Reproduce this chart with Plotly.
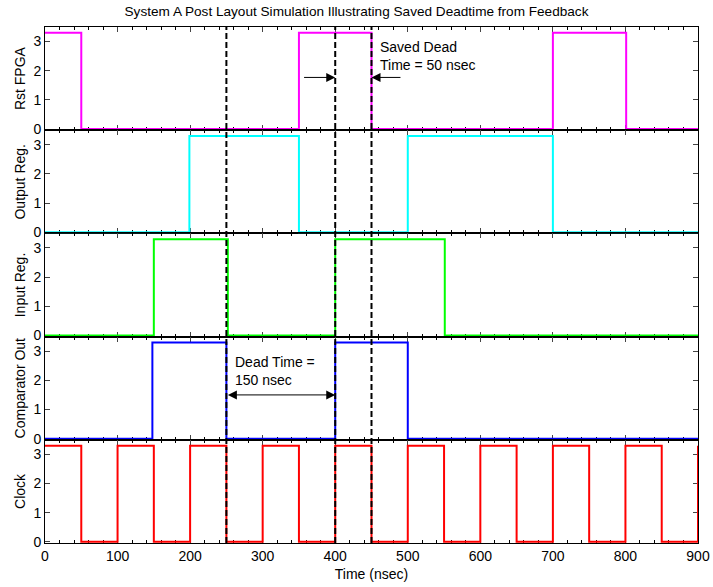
import plotly.graph_objects as go
from plotly.subplots import make_subplots

# ---- data (edge times in nsec, logic level after each edge in volts) ----
rst_t = [0, 50, 350, 450, 700, 801, 900]
rst_v = [3.3, 0, 3.3, 0, 3.3, 0, 0]

out_t = [0, 199, 350, 500, 700, 900]
out_v = [0, 3.3, 0, 3.3, 0, 0]

in_t = [0, 150, 252, 400, 551, 900]
in_v = [0, 3.3, 0, 3.3, 0, 0]

cmp_t = [0, 148, 250, 400, 500, 900]
cmp_v = [0, 3.3, 0, 3.3, 0, 0]

clk_t = [0, 50, 100, 150, 200, 250, 300, 350, 400, 450, 500, 550, 600, 650, 700, 750, 800, 850, 900]
clk_v = [3.3, 0, 3.3, 0, 3.3, 0, 3.3, 0, 3.3, 0, 3.3, 0, 3.3, 0, 3.3, 0, 3.3, 0, 3.3]

signal_names = ["Rst FPGA", "Output Reg.", "Input Reg.", "Comparator Out", "Clock"]
signal_colors = ["#FF00FF", "#00FFFF", "#00FF00", "#0000FF", "#FF0000"]
marker_times = [250, 400, 450]
x_ticks = [0, 100, 200, 300, 400, 500, 600, 700, 800, 900]
y_ticks = [0, 1, 2, 3]

title_text = "System A Post Layout Simulation Illustrating Saved Deadtime from Feedback"
xlabel = "Time (nsec)"

FONT = "Liberation Sans, Arial, sans-serif"
FS = 14

fig = make_subplots(rows=5, cols=1, shared_xaxes=True, vertical_spacing=0)

series = [(rst_t, rst_v), (out_t, out_v), (in_t, in_v), (cmp_t, cmp_v), (clk_t, clk_v)]
for i, ((t, v), c) in enumerate(zip(series, signal_colors)):
    fig.add_trace(go.Scatter(x=t, y=v, mode="lines", line=dict(color=c, width=2, shape="hv"),
                             showlegend=False, hoverinfo="skip"), row=i + 1, col=1)

for i in range(5):
    fig.update_yaxes(range=[-0.04, 3.5], tickvals=y_ticks, ticks="inside", ticklen=5,
                     showline=True, linecolor="black", linewidth=1, mirror="ticks",
                     showgrid=False, zeroline=False, layer="below traces", automargin=False,
                     title=dict(text=signal_names[i], font=dict(size=FS, family=FONT, color="black"), standoff=4),
                     tickfont=dict(size=FS, family=FONT, color="black"),
                     row=i + 1, col=1)
    fig.update_xaxes(range=[0, 900], tickvals=x_ticks, ticks="inside", ticklen=5,
                     minor=dict(dtick=20, ticks="inside", ticklen=3, tickcolor="black"),
                     showline=True, linecolor="black", linewidth=1, mirror="ticks",
                     showgrid=False, zeroline=False, layer="below traces", automargin=False,
                     tickfont=dict(size=FS, family=FONT, color="black"),
                     row=i + 1, col=1)

fig.update_xaxes(title=dict(text=xlabel, font=dict(size=FS, family=FONT, color="black"), standoff=6), row=5, col=1)

for xm in marker_times:
    fig.add_shape(type="line", xref="x5", yref="paper", x0=xm, x1=xm, y0=0, y1=1,
                  line=dict(color="black", width=2, dash="6px,3px"), layer="above")

# annotations
fig.add_annotation(xref="x", yref="y", x=459, y=2.5, text="Saved Dead<br>Time = 50 nsec",
                   showarrow=False, xanchor="left", align="left",
                   font=dict(size=FS, family=FONT, color="black"))
fig.add_annotation(xref="x", yref="y", axref="x", ayref="y", x=400, y=1.77, ax=355, ay=1.77,
                   text="", showarrow=True, arrowhead=2, arrowsize=1.8, arrowwidth=1, arrowcolor="black")
fig.add_annotation(xref="x", yref="y", axref="x", ayref="y", x=450, y=1.77, ax=492, ay=1.77,
                   text="", showarrow=True, arrowhead=2, arrowsize=1.8, arrowwidth=1, arrowcolor="black")
fig.add_annotation(xref="x4", yref="y4", x=259, y=2.32, text="Dead Time =<br>150 nsec",
                   showarrow=False, xanchor="left", align="left",
                   font=dict(size=FS, family=FONT, color="black"))
fig.add_annotation(xref="x4", yref="y4", axref="x4", ayref="y4", x=400, y=1.5, ax=250, ay=1.5,
                   text="", showarrow=True, arrowhead=2, arrowside="end+start", arrowsize=1.8,
                   arrowwidth=1, arrowcolor="black")

fig.update_layout(
    width=713, height=587,
    margin=dict(l=45, r=15, t=27, b=44, autoexpand=False),
    paper_bgcolor="white", plot_bgcolor="white",
    font=dict(family=FONT, size=FS, color="black"),
    title=dict(text=title_text, x=0.5, xref="container", xanchor="center",
               y=1 - 11 / 587, yref="container", yanchor="middle",
               font=dict(size=13.6, family=FONT, color="black")),
)

fig.write_html("out.html")
